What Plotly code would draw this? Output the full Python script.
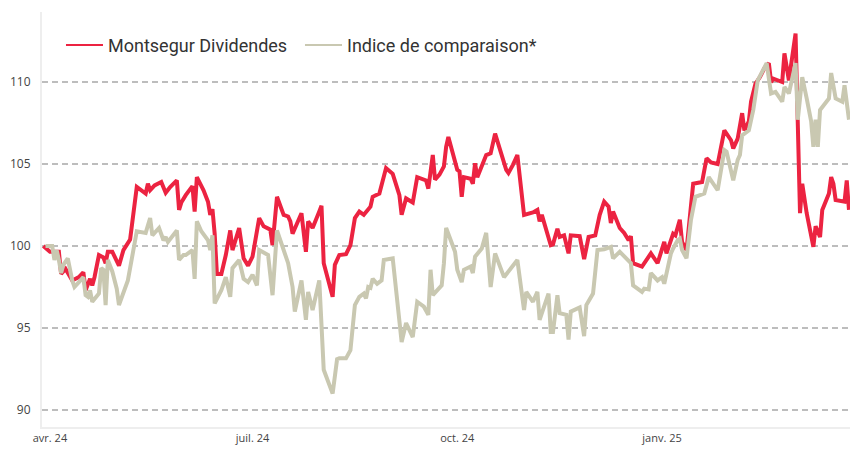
import plotly.graph_objects as go

# ---- Data ----
fund_name = "Montsegur Dividendes"
index_name = "Indice de comparaison*"

fund_dates = [
    "2024-03-29", "2024-04-01", "2024-04-05", "2024-04-06", "2024-04-08", "2024-04-11", "2024-04-14",
    "2024-04-16", "2024-04-17", "2024-04-19", "2024-04-20", "2024-04-21", "2024-04-23", "2024-04-25",
    "2024-04-26", "2024-04-27", "2024-04-29", "2024-05-01", "2024-05-02", "2024-05-04", "2024-05-06",
    "2024-05-07", "2024-05-10", "2024-05-12", "2024-05-14", "2024-05-15", "2024-05-16", "2024-05-18",
    "2024-05-21", "2024-05-23", "2024-05-25", "2024-05-28", "2024-05-29", "2024-05-30", "2024-06-01",
    "2024-06-04", "2024-06-05", "2024-06-06", "2024-06-09", "2024-06-11", "2024-06-12", "2024-06-13",
    "2024-06-14", "2024-06-15", "2024-06-17", "2024-06-19", "2024-06-21", "2024-06-22", "2024-06-25",
    "2024-06-27", "2024-06-29", "2024-07-01", "2024-07-04", "2024-07-06", "2024-07-09", "2024-07-10",
    "2024-07-12", "2024-07-15", "2024-07-17", "2024-07-18", "2024-07-19", "2024-07-23", "2024-07-25",
    "2024-07-26", "2024-07-28", "2024-07-31", "2024-08-01", "2024-08-02", "2024-08-06", "2024-08-07",
    "2024-08-09", "2024-08-12", "2024-08-14", "2024-08-16", "2024-08-18", "2024-08-20", "2024-08-23",
    "2024-08-24", "2024-08-27", "2024-08-30", "2024-09-02", "2024-09-05", "2024-09-06", "2024-09-08",
    "2024-09-11", "2024-09-13", "2024-09-17", "2024-09-18", "2024-09-20", "2024-09-21", "2024-09-23",
    "2024-09-25", "2024-09-26", "2024-09-27", "2024-10-01", "2024-10-02", "2024-10-03", "2024-10-04",
    "2024-10-07", "2024-10-08", "2024-10-09", "2024-10-10", "2024-10-13", "2024-10-14", "2024-10-16",
    "2024-10-18", "2024-10-23", "2024-10-24", "2024-10-26", "2024-10-28", "2024-10-31", "2024-11-04",
    "2024-11-06", "2024-11-07", "2024-11-08", "2024-11-12", "2024-11-13", "2024-11-15", "2024-11-16",
    "2024-11-18", "2024-11-20", "2024-11-21", "2024-11-25", "2024-11-27", "2024-11-29", "2024-12-02",
    "2024-12-04", "2024-12-06", "2024-12-08", "2024-12-09", "2024-12-10", "2024-12-13", "2024-12-15",
    "2024-12-17", "2024-12-18", "2024-12-19", "2024-12-23", "2024-12-27", "2024-12-30", "2025-01-02",
    "2025-01-03", "2025-01-06", "2025-01-07", "2025-01-09", "2025-01-10", "2025-01-12", "2025-01-15",
    "2025-01-19", "2025-01-21", "2025-01-23", "2025-01-26", "2025-01-29", "2025-02-01", "2025-02-02",
    "2025-02-04", "2025-02-06", "2025-02-07", "2025-02-09", "2025-02-10", "2025-02-12", "2025-02-14",
    "2025-02-16", "2025-02-18", "2025-02-19", "2025-02-20", "2025-02-24", "2025-02-25", "2025-02-27",
    "2025-03-02", "2025-03-03", "2025-03-04", "2025-03-05", "2025-03-07", "2025-03-10", "2025-03-11",
    "2025-03-13", "2025-03-14", "2025-03-17", "2025-03-18", "2025-03-19", "2025-03-20", "2025-03-24",
    "2025-03-25", "2025-03-26",
]
fund_values = [
    100.0, 99.65, 99.65, 98.3, 98.6, 97.9, 98.1,
    98.4, 97.3, 98.0, 97.6, 98.1, 99.45, 99.3,
    98.95, 99.65, 99.65, 99.0, 98.8, 99.75, 100.15,
    100.4, 103.6, 103.4, 103.2, 103.8, 103.4, 103.7,
    103.9, 103.25, 103.6, 104.0, 102.2, 102.65, 103.1,
    103.65, 102.1, 104.2, 103.4, 102.7, 101.9, 102.25,
    100.75, 98.3, 98.3, 99.45, 100.95, 99.75, 101.1,
    99.25, 98.8, 99.35, 101.7, 101.2, 101.0, 100.05,
    103.0, 101.9, 101.8, 101.5, 100.75, 102.0, 99.65,
    101.5, 101.1, 102.1, 102.45, 98.95, 96.9, 98.85,
    99.45, 99.5, 100.05, 101.7, 102.1, 101.9, 102.4,
    103.0, 103.2, 104.75, 104.4, 103.1, 101.9, 102.9,
    102.65, 104.2, 104.0, 103.5, 105.55, 104.05, 104.35,
    104.85, 106.05, 106.65, 104.65, 104.55, 103.0, 104.2,
    104.1, 103.8, 105.05, 104.2, 105.25, 105.55, 105.65,
    106.85, 104.65, 104.45, 104.95, 105.55, 101.9, 102.05,
    102.2, 101.5, 101.9, 100.05, 100.1, 101.05, 100.55,
    100.65, 99.55, 100.65, 100.6, 99.2, 100.55, 100.65,
    101.9, 102.7, 102.4, 101.4, 102.1, 101.1, 100.8,
    100.35, 100.6, 98.95, 98.75, 99.55, 98.95, 100.25,
    99.55, 100.75, 100.65, 101.6, 100.25, 99.75, 103.8,
    103.9, 105.35, 105.1, 105.0, 107.05, 106.45, 105.95,
    106.55, 108.1, 107.05, 107.6, 108.8, 109.9, 110.3,
    110.85, 111.15, 110.0, 110.2, 110.0, 111.75, 110.1,
    112.95, 107.7, 102.0, 103.8, 102.0, 99.95, 101.2,
    100.55, 102.2, 103.2, 104.2, 103.8, 102.8, 102.7,
    104.0, 102.2,
]

index_dates = [
    "2024-03-30", "2024-04-02", "2024-04-03", "2024-04-04", "2024-04-05", "2024-04-06", "2024-04-07",
    "2024-04-09", "2024-04-11", "2024-04-12", "2024-04-14", "2024-04-16", "2024-04-17", "2024-04-18",
    "2024-04-19", "2024-04-20", "2024-04-23", "2024-04-24", "2024-04-25", "2024-04-26", "2024-04-27",
    "2024-04-29", "2024-05-01", "2024-05-02", "2024-05-06", "2024-05-08", "2024-05-10", "2024-05-14",
    "2024-05-16", "2024-05-17", "2024-05-20", "2024-05-22", "2024-05-23", "2024-05-24", "2024-05-28",
    "2024-05-29", "2024-05-31", "2024-06-01", "2024-06-04", "2024-06-05", "2024-06-06", "2024-06-08",
    "2024-06-11", "2024-06-12", "2024-06-13", "2024-06-14", "2024-06-17", "2024-06-19", "2024-06-21",
    "2024-06-22", "2024-06-25", "2024-06-27", "2024-06-29", "2024-07-01", "2024-07-03", "2024-07-04",
    "2024-07-08", "2024-07-10", "2024-07-12", "2024-07-17", "2024-07-19", "2024-07-20", "2024-07-23",
    "2024-07-25", "2024-07-26", "2024-07-28", "2024-07-31", "2024-08-02", "2024-08-06", "2024-08-08",
    "2024-08-09", "2024-08-12", "2024-08-14", "2024-08-16", "2024-08-18", "2024-08-20", "2024-08-21",
    "2024-08-22", "2024-08-23", "2024-08-24", "2024-08-26", "2024-08-28", "2024-08-29", "2024-09-02",
    "2024-09-04", "2024-09-06", "2024-09-08", "2024-09-11", "2024-09-13", "2024-09-16", "2024-09-18",
    "2024-09-19", "2024-09-20", "2024-09-22", "2024-09-24", "2024-09-25", "2024-09-26", "2024-09-30",
    "2024-10-01", "2024-10-03", "2024-10-04", "2024-10-07", "2024-10-08", "2024-10-09", "2024-10-12",
    "2024-10-14", "2024-10-16", "2024-10-18", "2024-10-22", "2024-10-28", "2024-10-31", "2024-11-01",
    "2024-11-04", "2024-11-06", "2024-11-07", "2024-11-09", "2024-11-11", "2024-11-12", "2024-11-13",
    "2024-11-15", "2024-11-16", "2024-11-19", "2024-11-20", "2024-11-21", "2024-11-25", "2024-11-27",
    "2024-11-28", "2024-12-01", "2024-12-03", "2024-12-06", "2024-12-09", "2024-12-10", "2024-12-13",
    "2024-12-18", "2024-12-19", "2024-12-23", "2024-12-24", "2024-12-26", "2024-12-27", "2024-12-30",
    "2025-01-01", "2025-01-02", "2025-01-05", "2025-01-06", "2025-01-08", "2025-01-09", "2025-01-10",
    "2025-01-12", "2025-01-14", "2025-01-16", "2025-01-20", "2025-01-22", "2025-01-26", "2025-01-29",
    "2025-01-30", "2025-02-02", "2025-02-04", "2025-02-05", "2025-02-06", "2025-02-09", "2025-02-11",
    "2025-02-13", "2025-02-17", "2025-02-19", "2025-02-21", "2025-02-24", "2025-02-25", "2025-02-27",
    "2025-03-02", "2025-03-03", "2025-03-05", "2025-03-07", "2025-03-09", "2025-03-10", "2025-03-11",
    "2025-03-12", "2025-03-13", "2025-03-17", "2025-03-18", "2025-03-20", "2025-03-23", "2025-03-24",
    "2025-03-26",
]
index_values = [
    100.0, 100.0, 99.15, 99.75, 99.15, 98.35, 98.85,
    99.25, 97.9, 97.5, 97.8, 98.1, 97.0, 96.9,
    97.3, 96.6, 97.1, 98.65, 98.55, 96.4, 99.15,
    98.45, 97.4, 96.4, 97.9, 99.25, 100.9, 100.8,
    101.7, 100.65, 101.1, 100.35, 100.55, 100.25, 100.95,
    99.15, 99.45, 99.45, 99.75, 98.0, 101.5, 100.9,
    100.35, 99.75, 100.65, 96.5, 97.3, 98.1, 96.9,
    98.65, 99.15, 98.0, 97.8, 98.25, 97.6, 99.75,
    99.45, 97.0, 100.95, 98.95, 97.5, 96.0, 97.9,
    95.5, 97.2, 96.1, 97.9, 92.45, 91.0, 93.1,
    93.15, 93.15, 93.65, 96.4, 96.9, 97.1, 96.8,
    97.5, 97.45, 98.0, 97.7, 97.9, 99.15, 99.25,
    96.6, 94.15, 95.3, 94.45, 96.6, 96.3, 95.8,
    98.55, 97.0, 97.3, 97.6, 98.95, 101.1, 99.65,
    98.55, 97.8, 98.55, 98.75, 98.35, 99.35, 99.85,
    100.8, 97.5, 99.55, 98.1, 99.15, 96.1, 97.2,
    96.6, 97.2, 95.5, 96.3, 97.1, 94.75, 94.75,
    97.0, 95.9, 95.8, 94.3, 96.0, 96.25, 94.5,
    96.4, 97.1, 99.75, 99.8, 99.95, 99.25, 99.65,
    98.95, 97.6, 97.2, 97.4, 97.35, 98.35, 97.9,
    98.1, 97.7, 99.55, 99.85, 100.35, 100.45, 99.75,
    99.25, 101.6, 103.0, 103.2, 104.2, 103.4, 105.85,
    105.75, 104.0, 105.25, 105.55, 106.75, 107.05, 108.3,
    110.1, 111.15, 109.3, 109.4, 108.8, 109.7, 109.3,
    111.15, 107.7, 110.3, 109.0, 107.6, 106.05, 107.7,
    106.05, 108.3, 109.0, 110.55, 109.0, 108.8, 109.8,
    107.7,
]

x_tick_dates = ["2024-04-01", "2024-07-01", "2024-10-01", "2025-01-01"]
x_tick_labels = ["avr. 24", "juil. 24", "oct. 24", "janv. 25"]
y_tick_values = [90, 95, 100, 105, 110]

# ---- Styles ----
RED = "#ec2341"
GREY = "#c9c8b1"

fig = go.Figure()
# data lines (legend entries drawn by thin-line proxies below)
fig.add_trace(go.Scatter(
    x=fund_dates, y=fund_values, mode="lines", name=fund_name,
    line=dict(color=RED, width=4), hoverinfo="skip", showlegend=False,
    legendgroup="fund",
))
fig.add_trace(go.Scatter(
    x=index_dates, y=index_values, mode="lines", name=index_name,
    line=dict(color=GREY, width=4), hoverinfo="skip", showlegend=False,
    legendgroup="index",
))
# legend proxies (thin sample lines like the reference legend)
fig.add_trace(go.Scatter(
    x=[None], y=[None], mode="lines", name=fund_name,
    line=dict(color=RED, width=2), legendgroup="fund", showlegend=True,
))
fig.add_trace(go.Scatter(
    x=[None], y=[None], mode="lines", name=index_name,
    line=dict(color=GREY, width=2), legendgroup="index", showlegend=True,
))

fig.update_layout(
    width=850, height=450,
    margin=dict(l=42, r=0, t=12, b=23),
    paper_bgcolor="white", plot_bgcolor="white",
    showlegend=True,
    legend=dict(
        orientation="h", x=0.0235, y=0.92, xanchor="left", yanchor="middle",
        font=dict(family="Roboto", size=18, color="#333333"),
        itemwidth=37, bgcolor="rgba(0,0,0,0)",
        entrywidth=187, entrywidthmode="pixels",
    ),
    xaxis=dict(
        type="date",
        range=["2024-03-28 10:00", "2025-03-26 11:00"],
        tickmode="array", tickvals=x_tick_dates, ticktext=x_tick_labels,
        showgrid=False, zeroline=False,
        showline=True, linecolor="#eeeeee", linewidth=2,
        ticks="", tickfont=dict(family="Open Sans", size=11, color="#444444"),
    ),
    yaxis=dict(
        range=[88.963, 114.27],
        tickmode="array", tickvals=y_tick_values,
        showgrid=True, gridcolor="#bdbdbd", gridwidth=1.5, griddash="6px,4px",
        zeroline=False,
        showline=True, linecolor="#eeeeee", linewidth=2,
        ticks="", ticklabelstandoff=7,
        tickfont=dict(family="Open Sans", size=12, color="#444444"),
    ),
)

fig.write_html(
    "out.html",
    config={"displayModeBar": False},
    post_script="document.body.style.margin='0px';document.body.style.padding='0px';",
)
